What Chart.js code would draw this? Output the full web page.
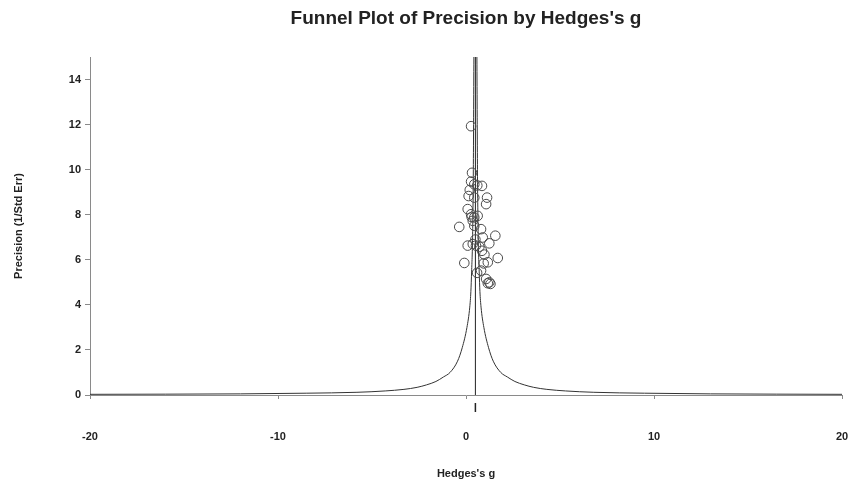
<!DOCTYPE html>
<html>
<head>
<meta charset="utf-8">
<script src="https://cdn.jsdelivr.net/npm/chart.js@4.4.1/dist/chart.umd.min.js"></script>
<style>
  html, body { margin: 0; padding: 0; background: #fff; }
  #wrap { width: 849px; height: 482px; position: relative; }
</style>
</head>
<body>
<div id="wrap"><canvas id="c" width="849" height="482"></canvas></div>
<script>
// ---- data ----
const chartTitle = "Funnel Plot of Precision by Hedges's g";
const xAxisTitle = "Hedges's g";
const yAxisTitle = "Precision (1/Std Err)";

const xTicks = [-20, -10, 0, 10, 20];
const yTicks = [0, 2, 4, 6, 8, 10, 12, 14];

// study effects (Hedges's g) and precision (1/SE)
const studyG = [0.27, 0.32, 0.27, 0.44, 0.85, 1.12, 0.14, 0.44, 1.07, 0.09,
                0.27, 0.44, 0.62, 0.36, 0.44, -0.36, 0.80, 0.89, 1.56, 1.24,
                0.09, 0.36, 0.53, 0.71, 0.85, 0.98, 1.69, -0.09, 1.16, 0.94,
                0.59, 0.80, 1.07, 1.16, 1.30, 1.24, 0.20, 0.60, 0.50, 0.30];
const studyPrecision = [11.93, 9.86, 9.47, 9.35, 9.28, 8.76, 8.83, 8.76, 8.47, 8.25,
                        8.02, 7.88, 7.95, 7.73, 7.51, 7.46, 7.36, 6.99, 7.07, 6.73,
                        6.63, 6.70, 6.63, 6.58, 6.40, 6.23, 6.08, 5.86, 5.89, 5.84,
                        5.42, 5.52, 5.15, 4.96, 4.93, 5.00, 9.10, 9.30, 6.90, 7.90];

// combined effect
const meanG = [0.5, 0.5];
const meanPrecision = [0, 15];
const meanMarkerPrecision = [-0.35, -0.75];

// funnel boundaries
const funnelPrecision = [15, 10, 7, 5.5, 4.6, 3.9, 3.0, 2.1, 1.5, 1.0,
                         0.8, 0.6, 0.45, 0.34, 0.25, 0.18, 0.12, 0.08, 0.05, 0.03];
const funnelLeft  = [0.42, 0.39, 0.35, 0.30, 0.26, 0.20, 0.05, -0.20, -0.45, -0.85,
                     -1.20, -1.60, -2.10, -2.60, -3.30, -4.30, -5.80, -8.50, -12.00, -20.0];
const funnelRight = [0.58, 0.61, 0.65, 0.70, 0.74, 0.80, 0.95, 1.20, 1.45, 1.85,
                     2.20, 2.60, 3.10, 3.60, 4.30, 5.30, 6.80, 9.50, 13.00, 20.0];

// ---- build chart ----
const pts = (xs, ys) => xs.map((x, i) => ({ x: x, y: ys[i] }));
const FONT = "'Liberation Sans', Arial, sans-serif";

const titlePlugin = {
  id: 'plotTitle',
  afterDraw(chart) {
    const ctx = chart.ctx;
    const a = chart.chartArea;
    ctx.save();
    ctx.font = "bold 19px " + FONT;
    ctx.fillStyle = '#222';
    ctx.textAlign = 'center';
    ctx.textBaseline = 'middle';
    ctx.fillText(chartTitle, (a.left + a.right) / 2, 19);
    ctx.restore();
  }
};

new Chart(document.getElementById('c'), {
  type: 'scatter',
  data: {
    datasets: [
      {
        label: 'Studies',
        data: pts(studyG, studyPrecision),
        pointRadius: 4.8,
        pointBorderWidth: 1,
        pointBorderColor: '#4a4a4a',
        pointBackgroundColor: 'rgba(0,0,0,0)',
        showLine: false
      },
      {
        label: 'Funnel left',
        data: pts(funnelLeft, funnelPrecision),
        showLine: true, pointRadius: 0, borderColor: '#333', borderWidth: 1,
        cubicInterpolationMode: 'monotone'
      },
      {
        label: 'Funnel right',
        data: pts(funnelRight, funnelPrecision),
        showLine: true, pointRadius: 0, borderColor: '#333', borderWidth: 1,
        cubicInterpolationMode: 'monotone'
      },
      {
        label: 'Mean',
        data: pts(meanG, meanPrecision),
        showLine: true, pointRadius: 0, borderColor: '#222', borderWidth: 1
      },
      {
        label: 'Mean marker',
        data: pts(meanG, meanMarkerPrecision),
        showLine: true, pointRadius: 0, borderColor: '#222', borderWidth: 1.5,
        clip: false
      }
    ]
  },
  options: {
    responsive: false,
    animation: false,
    events: [],
    layout: { autoPadding: false, padding: { top: 57, right: 7, left: 0, bottom: 0 } },
    plugins: {
      legend: { display: false },
      tooltip: { enabled: false },
      title: { display: false }
    },
    scales: {
      x: {
        type: 'linear',
        min: -20, max: 20,
        afterBuildTicks(scale) { scale.ticks = xTicks.map(v => ({ value: v })); },
        afterFit(scale) {
          scale.height = 87;
          scale.paddingLeft = 0;
          scale.paddingRight = 0;
        },
        border: { color: '#8a8a8a', width: 1 },
        grid: { drawOnChartArea: false, drawTicks: true, tickLength: 4, color: '#8a8a8a' },
        ticks: {
          padding: 31,
          color: '#222',
          font: { family: FONT, size: 11, weight: 'bold' },
          maxRotation: 0
        },
        title: {
          display: true, text: xAxisTitle, color: '#222',
          font: { family: FONT, size: 11, weight: 'bold' },
          padding: { top: 0, bottom: 1 }
        }
      },
      y: {
        type: 'linear',
        min: 0, max: 15,
        afterBuildTicks(scale) { scale.ticks = yTicks.map(v => ({ value: v })); },
        afterFit(scale) { scale.width = 90; },
        border: { color: '#8a8a8a', width: 1 },
        grid: { drawOnChartArea: false, drawTicks: true, tickLength: 5, color: '#8a8a8a' },
        ticks: {
          padding: 4,
          color: '#222',
          font: { family: FONT, size: 11, weight: 'bold' }
        },
        title: {
          display: true, text: yAxisTitle, color: '#222',
          font: { family: FONT, size: 11, weight: 'bold' },
          padding: { top: 12, bottom: 0 }
        }
      }
    }
  },
  plugins: [titlePlugin]
});
</script>
</body>
</html>
